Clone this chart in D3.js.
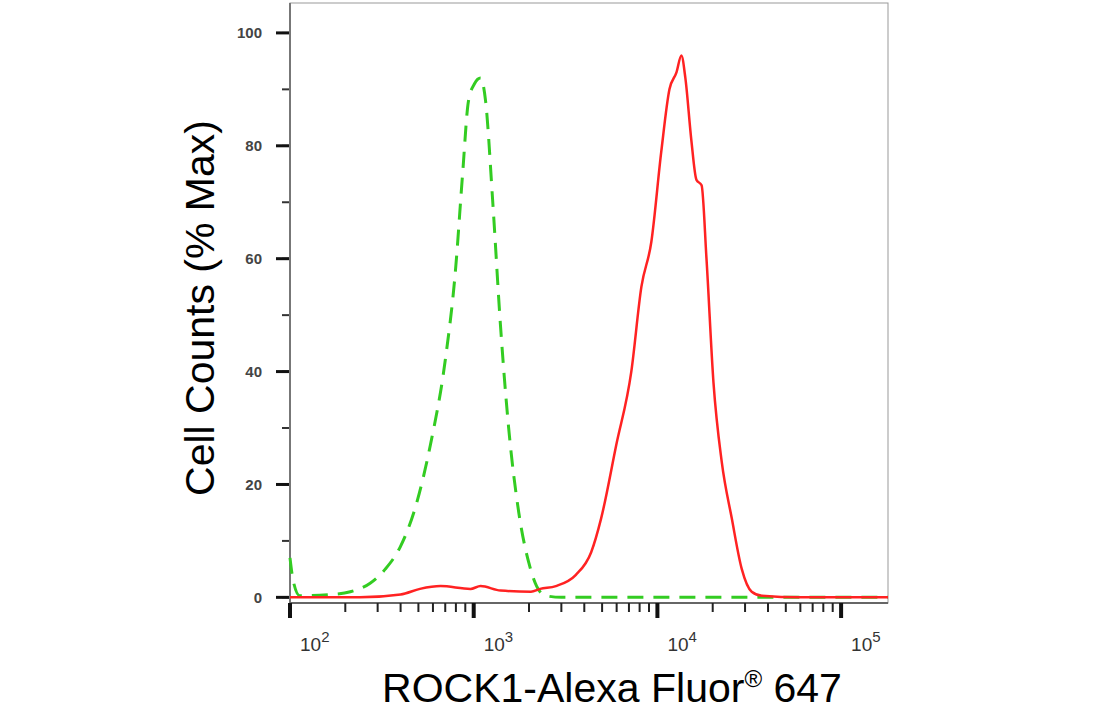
<!DOCTYPE html>
<html><head><meta charset="utf-8">
<script src="https://cdn.jsdelivr.net/npm/d3@7"></script>
<style>body{margin:0;background:#fff}</style>
</head><body><div id="chart"></div>
<script>
// isotype control (green dashed)
var ctrlX = [100,104,113,165,213,273,330,399,482,581,700,796,870,937,1010,1090,1160,1270,1400,1550,1760,2000,2200,2470,3000,10000,50000,180000]
var ctrlY = [7,3,0.3,0.5,1,2.5,5,9,16,27,42,58,75,88,91,92,88,70,48,30,15,6,2,0.3,0,0,0,0]
// ROCK1 stained (red solid)
var rockX = [100,240,400,510,660,960,1090,1400,2050,2300,2800,3600,4360,4940,5970,7210,8180,9270,10500,11630,12700,13500,14200,15300,16300,17400,18500,20200,22400,25400,28800,32600,37000,60000,180000]
var rockY = [0,0,0.5,1.5,2,1.5,2,1.2,1,1.5,2,4,8,14,27,40,55,63,79,90,93,96,92,81,74,73,60,38,24,14,5,1,0.3,0,0]
var yTicks = [0,20,40,60,80,100]
var xDecades = [100,1000,10000,100000]

var W = 1112, H = 715
var pLeft = 290, pRight = 888, pTop = 3, pBottom = 603

var svg = d3.select("#chart").append("svg").attr("width", W).attr("height", H)

var x = d3.scaleLog().domain([100, 180000]).range([pLeft, pRight])
var y = d3.scaleLinear().domain([-1, 105.3]).range([pBottom, pTop])

// frame
svg.append("rect").attr("x", pLeft).attr("y", pTop).attr("width", pRight - pLeft).attr("height", pBottom - pTop)
  .attr("fill", "none").attr("stroke", "#999").attr("stroke-width", 1)

// y axis
var yMinor = d3.range(0, 106, 10)
svg.selectAll(".ym").data(yMinor).enter().append("line")
  .attr("x1", pLeft - 8).attr("x2", pLeft).attr("y1", d => y(d)).attr("y2", d => y(d))
  .attr("stroke", "#333").attr("stroke-width", 2)
svg.selectAll(".yM").data(yTicks).enter().append("line")
  .attr("x1", pLeft - 14).attr("x2", pLeft).attr("y1", d => y(d)).attr("y2", d => y(d))
  .attr("stroke", "#111").attr("stroke-width", 3)
svg.selectAll(".yl").data(yTicks).enter().append("text")
  .attr("x", pLeft - 28).attr("y", d => y(d)).attr("dy", "0.35em")
  .attr("text-anchor", "end").attr("font-family", "Liberation Sans, Arial").attr("font-weight", "bold")
  .attr("font-size", 15).attr("fill", "#444").text(d => d)
svg.append("line").attr("x1", pLeft).attr("x2", pLeft).attr("y1", pTop).attr("y2", pBottom + 12)
  .attr("stroke", "#777").attr("stroke-width", 2)

// x axis
svg.append("line").attr("x1", pLeft).attr("x2", pRight).attr("y1", pBottom).attr("y2", pBottom)
  .attr("stroke", "#666").attr("stroke-width", 2)
var minor = []
xDecades.forEach(function(d) { for (var k = 2; k <= 9; k++) if (d * k < 180000) minor.push(d * k) })
svg.selectAll(".xm").data(minor).enter().append("line")
  .attr("x1", d => x(d)).attr("x2", d => x(d)).attr("y1", pBottom).attr("y2", pBottom + 9)
  .attr("stroke", "#222").attr("stroke-width", 2)
svg.selectAll(".xM").data(xDecades).enter().append("line")
  .attr("x1", d => x(d)).attr("x2", d => x(d)).attr("y1", pBottom).attr("y2", pBottom + 15)
  .attr("stroke", "#111").attr("stroke-width", 4)
var xl = svg.selectAll(".xl").data(xDecades).enter().append("text")
  .attr("x", d => x(d) + 10).attr("y", pBottom + 48)
  .attr("font-family", "Liberation Sans, Arial").attr("font-size", 19).attr("fill", "#333")
xl.append("tspan").text("10")
xl.append("tspan").attr("dy", -9).attr("font-size", 15).text(d => Math.round(Math.log10(d)))

// curves
var line = d3.line().x(d => x(d[0])).y(d => y(d[1])).curve(d3.curveMonotoneX)
svg.append("path").datum(ctrlX.map((v, i) => [v, ctrlY[i]]))
  .attr("d", line).attr("fill", "none").attr("stroke", "#33cc22").attr("stroke-width", 3)
  .attr("stroke-dasharray", "16,10")
svg.append("path").datum(rockX.map((v, i) => [v, rockY[i]]))
  .attr("d", line).attr("fill", "none").attr("stroke", "#ff2222").attr("stroke-width", 2.5)

// titles
var tx = svg.append("text").attr("x", 612).attr("y", 702).attr("text-anchor", "middle")
  .attr("font-family", "Liberation Sans, Arial").attr("font-size", 41).attr("fill", "#000")
tx.append("tspan").text("ROCK1-Alexa Fluor")
tx.append("tspan").attr("dy", -15).attr("font-size", 24).text("®")
tx.append("tspan").attr("dy", 15).text(" 647")
svg.append("text").attr("transform", "translate(214,308) rotate(-90)").attr("text-anchor", "middle")
  .attr("font-family", "Liberation Sans, Arial").attr("font-size", 41).attr("fill", "#000")
  .text("Cell Counts (% Max)")
</script></body></html>
